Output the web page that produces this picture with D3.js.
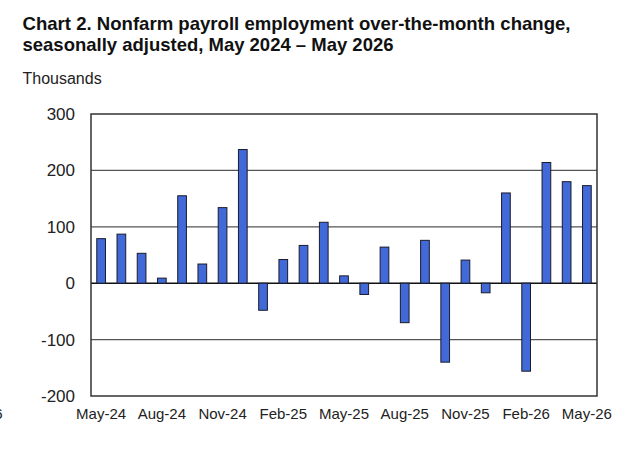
<!DOCTYPE html>
<html>
<head>
<meta charset="utf-8">
<script src="https://cdn.jsdelivr.net/npm/d3@7"></script>
<style>
  body { margin: 0; background: #fff; }
  svg { display: block; font-family: "Liberation Sans", Arial, sans-serif; }
</style>
</head>
<body>
<svg id="chart" width="640" height="462"></svg>
<script>
// months May-24 .. May-26
const months = ["May-24","Jun-24","Jul-24","Aug-24","Sep-24","Oct-24","Nov-24","Dec-24",
  "Jan-25","Feb-25","Mar-25","Apr-25","May-25","Jun-25","Jul-25","Aug-25","Sep-25","Oct-25",
  "Nov-25","Dec-25","Jan-26","Feb-26","Mar-26","Apr-26","May-26"];
// over-the-month change, thousands
const changes = [79, 87, 53, 9, 155, 34, 134, 237, -48, 42, 67, 108, 13, -20, 64, -70,
  76, -140, 41, -17, 160, -156, 214, 180, 173];
const yTicks = [300, 200, 100, 0, -100, -200];
const xLabels = ["May-24","Aug-24","Nov-24","Feb-25","May-25","Aug-25","Nov-25","Feb-26","May-26"];

const svg = d3.select("#chart");
const plotL = 91, plotR = 597, plotT = 114, plotB = 396;

const x = d3.scaleBand().domain(months).range([plotL, plotR]).paddingInner(0.57).paddingOuter(0.285);
const y = d3.scaleLinear().domain([-200, 300]).range([plotB, plotT]);

// title (glyphs in the original are a bit narrow, so squeeze to its width)
svg.append("text").attr("x", 22.5).attr("y", 29.5)
   .attr("font-size", 19).attr("font-weight", "bold").attr("fill", "#111")
   .attr("textLength", 548).attr("lengthAdjust", "spacingAndGlyphs")
   .text("Chart 2. Nonfarm payroll employment over-the-month change,");
svg.append("text").attr("x", 22.5).attr("y", 51)
   .attr("font-size", 19).attr("font-weight", "bold").attr("fill", "#111")
   .attr("textLength", 371).attr("lengthAdjust", "spacingAndGlyphs")
   .text("seasonally adjusted, May 2024 \u2013 May 2026");
svg.append("text").attr("x", 22.5).attr("y", 84)
   .attr("font-size", 16).attr("fill", "#222").text("Thousands");

// gridlines
svg.append("g").selectAll("line").data(yTicks.filter(d => d > -200 && d < 300)).join("line")
   .attr("x1", plotL).attr("x2", plotR)
   .attr("y1", d => y(d)).attr("y2", d => y(d))
   .attr("stroke", d => d === 0 ? "#111" : "#555").attr("stroke-width", d => d === 0 ? 1.5 : 1.2);

// bars
svg.append("g").selectAll("rect").data(changes).join("rect")
   .attr("x", (d, i) => x(months[i]))
   .attr("width", x.bandwidth())
   .attr("y", d => y(Math.max(0, d)))
   .attr("height", d => Math.abs(y(d) - y(0)))
   .attr("fill", "#4169d8").attr("stroke", "#1b1b2a").attr("stroke-width", 1);

// frame
svg.append("rect").attr("x", plotL).attr("y", plotT)
   .attr("width", plotR - plotL).attr("height", plotB - plotT)
   .attr("fill", "none").attr("stroke", "#333").attr("stroke-width", 1.5);

// y axis labels
const yAxis = d3.axisLeft(y).tickValues(yTicks).tickFormat(d => String(d)).tickSize(0).tickPadding(16);
const gy = svg.append("g").attr("transform", `translate(${plotL},0)`).call(yAxis);
gy.select(".domain").remove();
gy.selectAll("text").attr("font-size", 17).attr("fill", "#222").attr("font-family", null);

// x axis labels
const xAxis = d3.axisBottom(x).tickValues(xLabels).tickSize(0).tickPadding(12.5);
const gx = svg.append("g").attr("transform", `translate(0,${plotB})`).call(xAxis);
gx.select(".domain").remove();
gx.selectAll("text").attr("font-size", 15).attr("fill", "#222").attr("font-family", null);

// clipped leftover label at the left edge
svg.append("text").attr("x", 2.5).attr("y", 419).attr("text-anchor", "end")
   .attr("font-size", 15).attr("fill", "#222").text("6");
</script>
</body>
</html>
